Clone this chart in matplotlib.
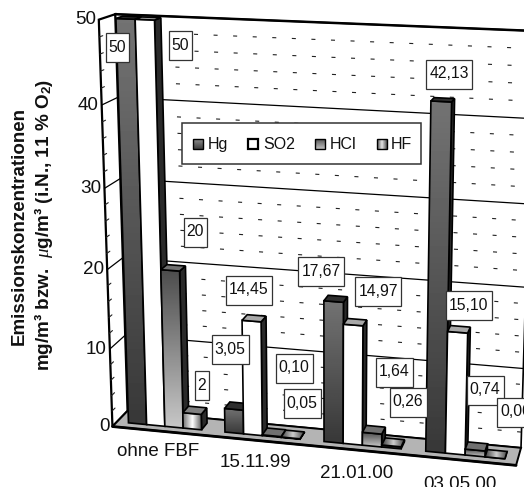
import numpy as np
import matplotlib
matplotlib.use("Agg")
import matplotlib.pyplot as plt
from matplotlib.patches import Polygon, Rectangle

plt.rcParams['font.family'] = ['Liberation Sans', 'DejaVu Sans']
plt.rcParams['lines.scale_dashes'] = False
plt.rcParams['mathtext.fontset'] = 'custom'
plt.rcParams['mathtext.rm'] = 'Liberation Sans:bold'
plt.rcParams['mathtext.it'] = 'Liberation Serif:italic'

# data
categories = ['ohne FBF', '15.11.99', '21.01.00', '03.05.00']
series = ['Hg', 'SO2', 'HCl', 'HF']
hg = [50, 3.05, 17.67, 42.13]
so2 = [50, 14.45, 14.97, 15.10]
hcl = [20, 0.10, 1.64, 0.74]
hf = [2, 0.05, 0.26, 0.00]
y_major = [0, 10, 20, 30, 40, 50]
y_minor = [2, 4, 6, 8, 12, 14, 16, 18, 22, 24, 26, 28, 32, 34, 36, 38, 42, 44, 46, 48]

# label boxes were moved by hand in the original, centre x, centre y, width
label_text = ['50', '50', '20', '2', '3,05', '14,45', '0,10', '0,05',
              '17,67', '14,97', '1,64', '0,26', '42,13', '15,10', '0,74', '0,00']
label_x = [117, 180, 195, 202, 230, 249, 294, 302, 321, 378, 394, 408, 449, 468.5, 485, 515.5]
label_y = [47, 45, 232, 385, 349, 290, 368, 403, 271, 291, 372, 402, 74, 305, 390, 412]
label_w = [23, 23, 23, 14.5, 37, 46, 37, 37, 46, 46, 37, 37, 46, 46, 37, 37]

# camera: (category pos, depth, value) -> pixel, fitted on the frame of the chart
cam_world = [(0, 0, 0), (0, 0, 10), (0, 0, 20), (0, 0, 30), (0, 0, 40), (0, 0, 50),
             (0, 1, 0), (0, 1, 10), (0, 1, 20), (0, 1, 30), (0, 1, 40), (0, 1, 50),
             (4, 1, 0), (4, 1, 10), (4, 1, 20), (4, 1, 30), (4, 1, 40), (4, 1, 50),
             (4, 0, 0), (0.12, 0.3, 0), (1.12, 0.3, 0), (2.12, 0.3, 0), (3.12, 0.3, 0),
             (3.12, 0.3, 42.13), (2.12, 0.3, 17.67)]
cam_pix = [(112, 426), (109.5, 348), (107, 268), (104.5, 189), (102, 105), (98, 20),
           (128, 411), (125, 336), (123, 258), (120, 179), (117, 98), (116, 14),
           (521, 447), (523.5, 370), (525.5, 286), (528, 203), (530, 117.5), (532.5, 30.5),
           (514, 466), (128, 422), (225, 432), (325, 442), (427, 452),
           (433, 102), (325, 302)]

A = []
b = []
for (x, d, v), (px, py) in zip(cam_world, cam_pix):
    A.append([x, d, v, 1, 0, 0, 0, 0, -px * x, -px * d, -px * v])
    A.append([0, 0, 0, 0, x, d, v, 1, -py * x, -py * d, -py * v])
    b += [px, py]
sol = np.linalg.lstsq(np.array(A, float), np.array(b, float), rcond=None)[0]
P = np.array([list(sol[:4]), list(sol[4:8]), list(sol[8:11]) + [1.0]])


def proj(x, d, v):
    p = P @ np.array([x, d, v, 1.0])
    return p[0] / p[2], p[1] / p[2]


fig = plt.figure(figsize=(5.24, 4.87), dpi=100)
ax = fig.add_axes([0, 0, 1, 1])
ax.set_axis_off()


def grad_poly(pts, arr, z, lw=1.2):
    # gradient image clipped to a polygon, black outline on top
    pts = np.array(pts)
    im = ax.imshow(arr, cmap='gray', vmin=0, vmax=1, aspect='auto', interpolation='bilinear', zorder=z,
                   extent=(pts[:, 0].min(), pts[:, 0].max(), pts[:, 1].max(), pts[:, 1].min()))
    clip = Polygon(pts, closed=True, transform=ax.transData)
    im.set_clip_path(clip)
    ax.add_patch(Polygon(pts, closed=True, fill=False, ec='black', lw=lw, zorder=z + 0.01))


def flat_poly(pts, col, z, lw=1.2):
    ax.add_patch(Polygon(pts, closed=True, fc=col, ec='black', lw=lw, zorder=z))


def gline(p0, p1, **kw):
    ax.plot([p0[0], p1[0]], [p0[1], p1[1]], solid_capstyle='round', **kw)


# walls and floor
flat_poly([proj(0, 1, 0), proj(0, 1, 50), proj(4, 1, 50), proj(4, 1, 0)], 'white', 1, lw=1.2)
flat_poly([proj(0, 0, 0), proj(0, 0, 50), proj(0, 1, 50), proj(0, 1, 0)], 'white', 1, lw=1.6)
flat_poly([proj(0, 0, 0), proj(0, 1, 0), proj(4, 1, 0), proj(4, 0, 0)], '#b4b4b4', 1.2, lw=1.4)
gline(proj(0, 1, 50), proj(4, 1, 50), color='black', lw=1.8, zorder=1.3)
gline(proj(0, 0, 0), proj(4, 0, 0), color='black', lw=2.0, zorder=1.3)

for v in y_major[1:-1]:
    gline(proj(0, 0, v), proj(0, 1, v), color='black', lw=0.9, zorder=1.1)
    gline(proj(0, 1, v), proj(4, 1, v), color='black', lw=0.9, zorder=1.1)
for v in y_minor:
    gline(proj(0, 0, v), proj(0, 0.2, v), color='#222222', lw=0.8, zorder=1.1)
    p0 = proj(0, 1, v)
    p1 = proj(4, 1, v)
    ax.plot([p0[0], p1[0]], [p0[1], p1[1]], color='#222222', lw=0.8, zorder=1.1,
            linestyle=(0, (2.9, 11.2)), dash_capstyle='butt')

# y tick labels
for v in y_major:
    px, py = proj(0, 0, v)
    ax.text(px - 3, py, str(v), ha='right', va='center', fontsize=13.6, color='#111111', zorder=9)

# category labels, they step down a little more than the floor edge does
for i, name in enumerate(categories):
    px, py = proj(i + 0.47, 0, 0)
    ax.text(px, py + 21 + 1.1 * i, name, ha='center', va='center', fontsize=13.5, color='#111111', zorder=9)

# bars
bar_w = 0.19
bar_gap = 0.12
d0 = 0.3
d1 = 0.72
hg_grad = np.linspace(0.45, 0.22, 64).reshape(-1, 1)
hcl_grad = np.linspace(0.3, 0.78, 64).reshape(-1, 1)
hf_grad = np.interp(np.linspace(0, 1, 64), [0, 0.5, 1], [0.45, 1.0, 0.35]).reshape(1, -1)
hf_grad_top = np.interp(np.linspace(0, 1, 64), [0, 0.5, 1], [0.25, 0.8, 0.25]).reshape(1, -1)

z = 2
for i in range(len(categories)):
    vals = [hg[i], so2[i], hcl[i], hf[i]]
    for j, val in enumerate(vals):
        x0 = i + bar_gap + j * bar_w
        x1 = x0 + bar_w
        front = [proj(x0, d0, 0), proj(x0, d0, val), proj(x1, d0, val), proj(x1, d0, 0)]
        side = [proj(x1, d0, 0), proj(x1, d0, val), proj(x1, d1, val), proj(x1, d1, 0)]
        top = [proj(x0, d0, val), proj(x0, d1, val), proj(x1, d1, val), proj(x1, d0, val)]
        flat_poly(side, '#2a2a2a', z)
        if j == 0:
            grad_poly(front, hg_grad, z + 0.1)
            flat_poly(top, '#2e2e2e', z + 0.2)
        elif j == 1:
            flat_poly(front, 'white', z + 0.1)
            flat_poly(top, '#a8a8a8', z + 0.2)
        elif j == 2:
            grad_poly(front, hcl_grad, z + 0.1)
            flat_poly(top, '#707070', z + 0.2)
        else:
            if val > 0.5:
                grad_poly(front, hf_grad, z + 0.1)
                flat_poly(top, '#808080', z + 0.2)
            else:
                flat_poly(front, '#333333', z + 0.1)
                grad_poly(top, hf_grad_top, z + 0.2)
        z += 0.3

# value boxes
for t, x, y, w in zip(label_text, label_x, label_y, label_w):
    ax.add_patch(Rectangle((x - w / 2, y - 14.5), w, 29, fc='white', ec='#333333', lw=0.9, zorder=10))
    ax.text(x, y, t, ha='center', va='center', fontsize=11.3, color='#111111', zorder=11, clip_on=True)

# legend box drawn by hand, keys sit in one row
ax.add_patch(Rectangle((182, 123), 239, 41, fc='white', ec='#333333', lw=1.1, zorder=12))
key_x = [193, 248, 315, 377]
text_x = [208, 263, 330, 391]
key_grad = [np.linspace(0.55, 0.25, 16).reshape(-1, 1),
            None,
            np.linspace(0.35, 0.75, 16).reshape(-1, 1),
            np.interp(np.linspace(0, 1, 16), [0, 0.5, 1], [0.35, 0.9, 0.35]).reshape(1, -1)]
for name, kx, tx, g in zip(series, key_x, text_x, key_grad):
    box = [(kx, 139), (kx, 149), (kx + 10, 149), (kx + 10, 139)]
    if g is None:
        flat_poly(box, 'white', 13, lw=1.6)
    else:
        grad_poly(box, g, 13, lw=1.0)
    ax.text(tx, 144.5, name, ha='left', va='center', fontsize=11.5, color='#111111', zorder=13)

# axis title
ax.text(19, 226, 'Emissionskonzentrationen', rotation=90, ha='center', va='center',
        fontsize=13.5, fontweight='bold', color='#111111')
ax.text(44, 225, r'mg/m³ bzw.  $\mu$g/m³ (i.N., 11 % O$_{\mathrm{2}}$)', rotation=90, ha='center', va='center',
        fontsize=13.6, fontweight='bold', color='#111111')

ax.set_xlim(0, 524)
ax.set_ylim(487, 0)
fig.savefig('out.png', dpi=100)
